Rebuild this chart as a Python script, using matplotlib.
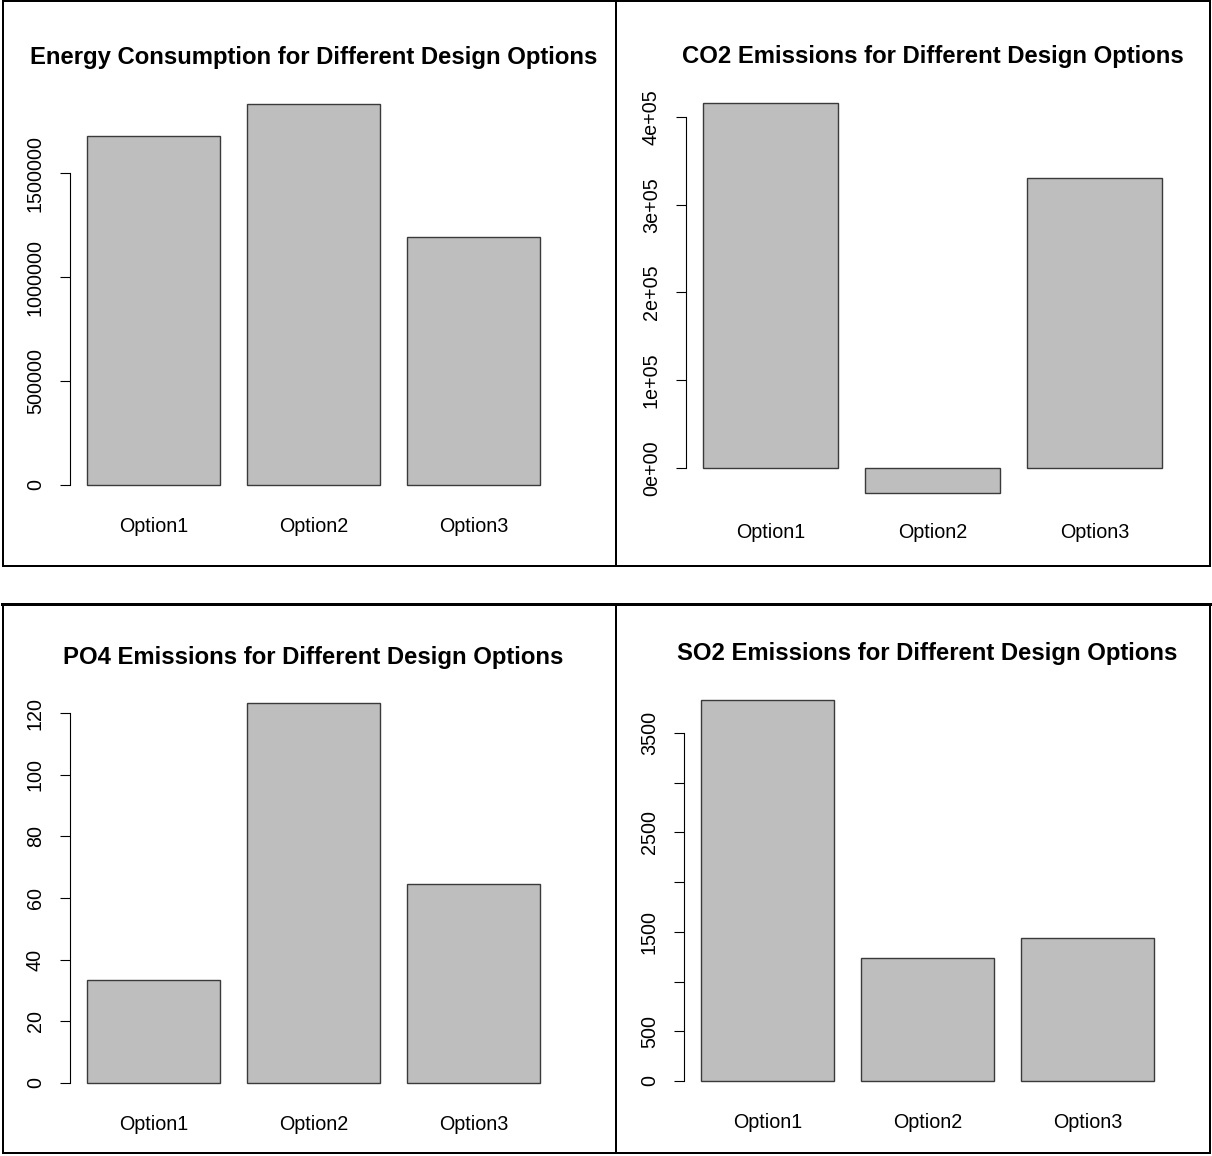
import matplotlib
matplotlib.use('agg')
import matplotlib.pyplot as plt
from matplotlib.lines import Line2D

plt.rcParams['font.family'] = ['Liberation Sans', 'DejaVu Sans']

W, H = 1212, 1156

options = ["Option1", "Option2", "Option3"]

energy = [1678000, 1832000, 1192000]
co2 = [416000, -28500, 330500]
po4 = [33.4, 123.2, 64.5]
so2 = [3833, 1237, 1438]

energy_ticks = [0, 500000, 1000000, 1500000]
energy_labels = ["0", "500000", "1000000", "1500000"]
co2_ticks = [0, 100000, 200000, 300000, 400000]
co2_labels = ["0e+00", "1e+05", "2e+05", "3e+05", "4e+05"]
po4_ticks = [0, 20, 40, 60, 80, 100, 120]
po4_labels = ["0", "20", "40", "60", "80", "100", "120"]
so2_ticks = [0, 500, 1000, 1500, 2000, 2500, 3000, 3500]
so2_labels = ["0", "500", "", "1500", "", "2500", "", "3500"]

titles = [
    "Energy Consumption for Different Design Options",
    "CO2 Emissions for Different Design Options",
    "PO4 Emissions for Different Design Options",
    "SO2 Emissions for Different Design Options",
]

BAR_FILL = "#bebebe"
BAR_EDGE = "#3a3a3a"


def px(x, y):
    return x / W, 1 - y / H


def barplot(fig, values, ticks, labels, title, left, right, zero_px, unit_px, lo, hi, title_y):
    # axes box in pixels: x spans the bars, y follows the value scale
    bottom_px = zero_px - lo * unit_px
    top_px = zero_px - hi * unit_px
    ax = fig.add_axes([left / W, 1 - bottom_px / H, (right - left) / W, (bottom_px - top_px) / H])
    pos = [0.7 + 1.2 * i for i in range(len(values))]
    bars = ax.bar(pos, values, width=1.0, color=BAR_FILL, edgecolor=BAR_EDGE, linewidth=1.0)
    for b in bars:
        b.set_clip_on(False)
    ax.set_xlim(0.2, 3.6)
    ax.set_ylim(lo, hi)

    for side in ("top", "right", "bottom"):
        ax.spines[side].set_visible(False)
    ax.spines["left"].set_position(("outward", 12.6))
    ax.spines["left"].set_bounds(ticks[0], ticks[-1])
    ax.spines["left"].set_linewidth(0.8)

    ax.set_yticks(ticks, labels)
    ax.tick_params(axis="y", length=7.2, width=0.8, pad=10.5, labelsize=14.2)
    for t in ax.get_yticklabels():
        t.set_rotation(90)
        t.set_va("center")

    ax.set_xticks(pos, options)
    ax.tick_params(axis="x", length=0, pad=12.0, labelsize=14.2)

    cx = (left + right) / 2
    fig.text(*px(cx, title_y), title, ha="center", va="baseline",
             fontsize=17.2, fontweight="bold")
    return ax


fig = plt.figure(figsize=(W / 100, H / 100), dpi=100)

barplot(fig, energy, energy_ticks, energy_labels, titles[0],
        87, 540, 485, 312 / 1.5e6, -73000, 1.9e6, 64)
barplot(fig, co2, co2_ticks, co2_labels, titles[1],
        703, 1162, 468, 351 / 4e5, -43300, 4.3e5, 63)
barplot(fig, po4, po4_ticks, po4_labels, titles[2],
        87, 540, 1083, 370 / 120, -5, 126, 664)
barplot(fig, so2, so2_ticks, so2_labels, titles[3],
        701, 1154, 1081, 348 / 3500, -153, 3900, 660)

# panel frames
def frame_line(x0, y0, x1, y1, lw):
    a = px(x0, y0)
    b = px(x1, y1)
    fig.add_artist(Line2D([a[0], b[0]], [a[1], b[1]], color="black", linewidth=lw,
                          solid_capstyle="projecting"))

frame_line(3, 1, 1210, 1, 1.44)
frame_line(3, 566, 1210, 566, 1.44)
frame_line(3, 1, 3, 566, 1.44)
frame_line(1210, 1, 1210, 566, 1.44)
frame_line(616, 1, 616, 566, 1.44)

frame_line(2, 604, 1211, 604, 2.16)
frame_line(3, 1153, 1210, 1153, 1.44)
frame_line(3, 604, 3, 1153, 1.44)
frame_line(1210, 604, 1210, 1153, 1.44)
frame_line(616, 604, 616, 1153, 1.44)

fig.savefig("out.png", dpi=100)
